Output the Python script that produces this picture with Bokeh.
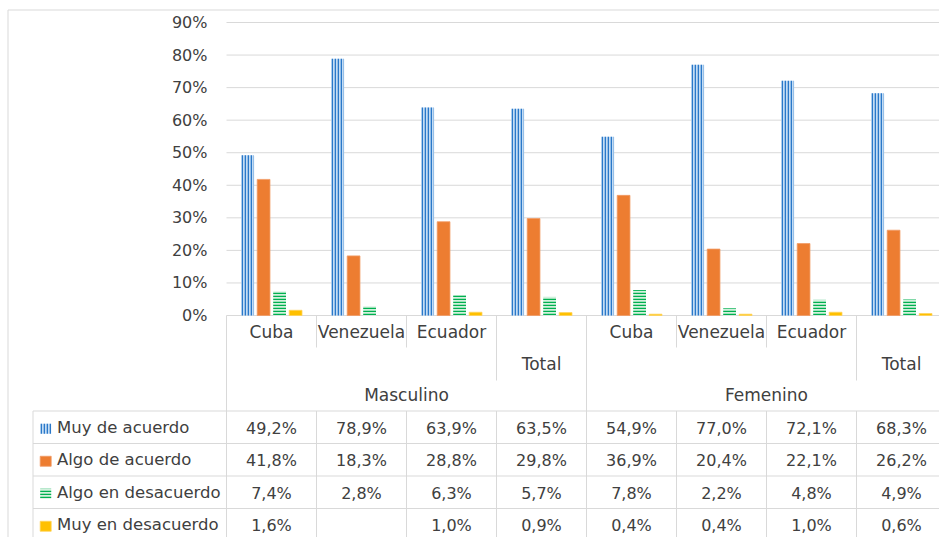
from bokeh.plotting import figure
from bokeh.models import Range1d, FixedTicker, PrintfTickFormatter, LinearAxis
from bokeh.embed import file_html
from bokeh.resources import INLINE
from bokeh.core.properties import value

# ---------------- data ----------------
groups = ["Masculino", "Femenino"]
subcats = ["Cuba", "Venezuela", "Ecuador", "Total"]
series = ["Muy de acuerdo", "Algo de acuerdo", "Algo en desacuerdo", "Muy en desacuerdo"]
muy_de_acuerdo = [49.2, 78.9, 63.9, 63.5, 54.9, 77.0, 72.1, 68.3]
algo_de_acuerdo = [41.8, 18.3, 28.8, 29.8, 36.9, 20.4, 22.1, 26.2]
algo_en_desacuerdo = [7.4, 2.8, 6.3, 5.7, 7.8, 2.2, 4.8, 4.9]
muy_en_desacuerdo = [1.6, None, 1.0, 0.9, 0.4, 0.4, 1.0, 0.6]
y_ticks = [0, 10, 20, 30, 40, 50, 60, 70, 80, 90]

values = [muy_de_acuerdo, algo_de_acuerdo, algo_en_desacuerdo, muy_en_desacuerdo]

# ---------------- styles ----------------
FONT = "DejaVu Sans"
FS_NUM = "16px"
FS_TXT = "17px"
FS_LEG = "16.5px"
TXT = "#404040"
GRID = "#d9d9d9"
styles = [
    dict(fill_color="#c4dcf4", hatch_pattern="vertical_line", hatch_color="#2a78c9",
         hatch_scale=3, hatch_weight=1.6, line_color=None),
    dict(fill_color="#ED7D31", line_color="#f19a64", line_width=0.8),
    dict(fill_color="#d3f0dd", hatch_pattern="horizontal_line", hatch_color="#00B050",
         hatch_scale=3, hatch_weight=1.5, line_color=None),
    dict(fill_color="#FFC000", line_color="#ffd35a", line_width=0.8),
]
offsets = [-0.265, -0.088, 0.09, 0.268]
BAR_W = 0.142

# ---------------- geometry (canvas pixels) ----------------
W, H = 939, 537
CAT_PX = 90.0            # px per category
X0_PX = 226.0            # px of first category's left edge
ZERO_PX = 315.0          # px of 0%
PX_PER = 293.0 / 90.0    # px per percentage point


def X(px):
    return (px - X0_PX) / CAT_PX


def Y(py):
    return (ZERO_PX - py) / PX_PER


n_cat = len(groups) * len(subcats)
x_end = X(W)
y_bot = Y(H)

p = figure(width=W, height=H, x_range=Range1d(X(0), x_end), y_range=Range1d(y_bot, Y(0)),
           output_backend="svg", toolbar_location=None,
           x_axis_location=None, y_axis_location=None,
           min_border=0, min_border_left=0, min_border_right=0,
           min_border_top=0, min_border_bottom=0)
p.outline_line_color = None
p.grid.visible = False

# y axis drawn at the start of the category area
yax = LinearAxis(fixed_location=0, ticker=FixedTicker(ticks=y_ticks),
                 formatter=PrintfTickFormatter(format="%d%%"))
yax.axis_line_color = None
yax.major_tick_line_color = None
yax.minor_tick_line_color = None
yax.major_tick_out = 0
yax.major_tick_in = 0
yax.major_label_standoff = 19
yax.major_label_text_font = FONT
yax.major_label_text_font_size = FS_NUM
yax.major_label_text_color = TXT
p.add_layout(yax, "left")

seg_kw = dict(line_color=GRID, line_width=1)

# horizontal gridlines (0% line doubles as table top border)
p.segment(x0=[0] * len(y_ticks), y0=y_ticks, x1=[x_end] * len(y_ticks), y1=y_ticks, **seg_kw)

# outer chart border (top and left)
p.segment(x0=[X(7.5), X(7.5)], y0=[Y(9.5), Y(9.5)], x1=[x_end, X(7.5)], y1=[Y(9.5), y_bot],
          **seg_kw)

# bars
for s, vals in enumerate(values):
    xs = [i + 0.5 + offsets[s] for i, v in enumerate(vals) if v is not None]
    tops = [v for v in vals if v is not None]
    p.vbar(x=xs, top=tops, bottom=0, width=BAR_W, **styles[s])

# category labels
txt_kw = dict(text_font=value(FONT), text_color=TXT, text_align="center", text_baseline="middle")
cat_x, cat_t, tot_x = [], [], []
for g in range(len(groups)):
    for j, sc in enumerate(subcats):
        i = g * len(subcats) + j
        if sc == "Total":
            tot_x.append(i + 0.5)
        else:
            cat_x.append(i + 0.5)
            cat_t.append(sc)
p.text(x=cat_x, y=[Y(331)] * len(cat_x), text=cat_t, text_font_size=FS_TXT, **txt_kw)
p.text(x=tot_x, y=[Y(363)] * len(tot_x), text=["Total"] * len(tot_x), text_font_size=FS_TXT, **txt_kw)
p.text(x=[g * len(subcats) + len(subcats) / 2 for g in range(len(groups))],
       y=[Y(394.5)] * len(groups), text=groups, text_font_size=FS_TXT, **txt_kw)

# category separators
short_x, mid_x, long_x = [], [], []
for g in range(len(groups)):
    base = g * len(subcats)
    long_x.append(base)
    for j in range(1, len(subcats)):
        if subcats[j] == "Total":
            mid_x.append(base + j)
        else:
            short_x.append(base + j)
p.segment(x0=short_x, y0=[0] * len(short_x), x1=short_x, y1=[Y(347)] * len(short_x), **seg_kw)
p.segment(x0=mid_x, y0=[0] * len(mid_x), x1=mid_x, y1=[Y(380)] * len(mid_x), **seg_kw)
p.segment(x0=long_x, y0=[0] * len(long_x), x1=long_x, y1=[y_bot] * len(long_x), **seg_kw)

# ---------------- data table ----------------
ROW_TOP = 410.5
ROW_H = 32.5
rows = len(series)
leg_left = X(32.5)
row_tops = [Y(ROW_TOP + r * ROW_H) for r in range(rows)]
row_mid = [Y(ROW_TOP + (r + 0.5) * ROW_H) for r in range(rows)]
row_mid_num = [Y(ROW_TOP + (r + 0.5) * ROW_H + 1) for r in range(rows)]
p.segment(x0=[leg_left] * rows, y0=row_tops, x1=[x_end] * rows, y1=row_tops, **seg_kw)
vx = [leg_left] + [i for i in range(n_cat) if i not in long_x]
p.segment(x0=vx, y0=[row_tops[0]] * len(vx), x1=vx, y1=[y_bot] * len(vx), **seg_kw)

# legend keys + labels
for s in range(rows):
    p.rect(x=[X(45.2)], y=[Y(ROW_TOP + (s + 0.5) * ROW_H + 1.5)], width=11, height=10,
           width_units="screen", height_units="screen", **styles[s])
p.text(x=[X(56.5)] * rows, y=row_mid, text=series, text_font=value(FONT),
       text_font_size=FS_LEG, text_color=TXT, text_align="left", text_baseline="middle")

# cell values
cx, cy, ct = [], [], []
for s, vals in enumerate(values):
    for i, v in enumerate(vals):
        if v is None:
            continue
        cx.append(i + 0.5)
        cy.append(row_mid_num[s])
        ct.append(f"{v:.1f}%".replace(".", ","))
p.text(x=cx, y=cy, text=ct, text_font_size=FS_NUM, **txt_kw)

open("out.html", "w").write(file_html(p, INLINE))
